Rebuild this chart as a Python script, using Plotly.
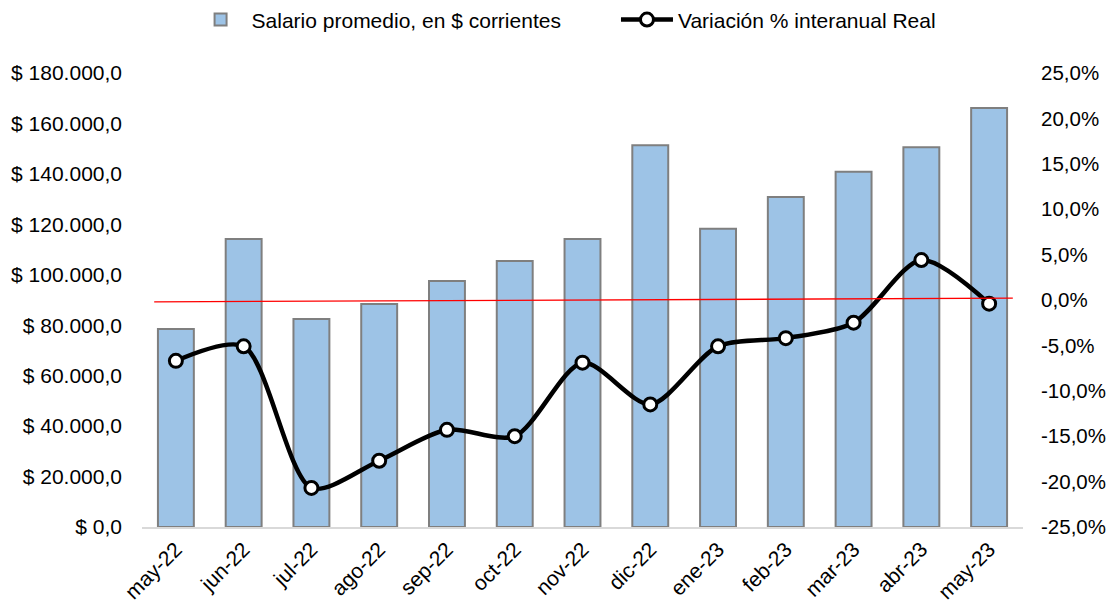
import plotly.graph_objects as go

months = ["may-22", "jun-22", "jul-22", "ago-22", "sep-22", "oct-22", "nov-22",
          "dic-22", "ene-23", "feb-23", "mar-23", "abr-23", "may-23"]
salario = [78500, 114200, 82500, 88400, 97500, 105500, 114200,
           151400, 118200, 130800, 140800, 150600, 166100]
variacion = [-6.7, -5.1, -20.7, -17.7, -14.3, -15.0, -6.9,
             -11.5, -5.1, -4.2, -2.5, 4.4, -0.4]

left_ticks = list(range(0, 180001, 20000))
right_ticks = list(range(-25, 26, 5))
ref_x = [-0.32, 12.35]
ref_y = [-0.2, 0.2]

def fmt_money(v):
    s = f"{v:,.1f}".replace(",", "X").replace(".", ",").replace("X", ".")
    return "$ " + s

def fmt_pct(v):
    return f"{v:.1f}".replace(".", ",") + "%"

FONT = "Liberation Sans, Arial, sans-serif"
FS = 21

fig = go.Figure()
fig.add_trace(go.Bar(
    x=months, y=salario, name="Salario promedio, en $ corrientes",
    marker=dict(color="#9DC3E6", line=dict(color="#7F7F7F", width=2)),
    yaxis="y", legend="legend",
))
fig.add_trace(go.Scatter(
    x=months, y=variacion, name="Variación % interanual Real",
    mode="lines+markers", line=dict(color="black", width=4.5, shape="spline", smoothing=0.8),
    marker=dict(size=13, color="white", line=dict(color="black", width=3)),
    yaxis="y2", legend="legend2",
))
fig.add_shape(type="line", xref="x", yref="y2",
              x0=ref_x[0], x1=ref_x[1], y0=ref_y[0], y1=ref_y[1],
              line=dict(color="#FF0000", width=1.3))

legend_common = dict(orientation="h", y=1.117, yanchor="middle", xanchor="left",
                     font=dict(size=FS, family=FONT), itemwidth=52,
                     bgcolor="rgba(0,0,0,0)")

fig.update_layout(
    width=1108, height=598,
    margin=dict(l=134, r=93, t=65, b=79, autoexpand=False),
    plot_bgcolor="white", paper_bgcolor="white",
    font=dict(family=FONT, size=FS, color="black"),
    bargap=0.47,
    showlegend=True,
    legend=dict(x=0.054, **legend_common),
    legend2=dict(x=0.538, **legend_common),
    xaxis=dict(type="category", tickangle=-45, showgrid=False, showline=True,
               linecolor="#D9D9D9", linewidth=1.5, ticks="", tickfont=dict(size=FS),
               range=[-0.5, 12.5], automargin=False),
    yaxis=dict(range=[0, 180000], tickvals=left_ticks,
               ticktext=[fmt_money(v) for v in left_ticks],
               showgrid=False, zeroline=False, showline=False, ticks="",
               tickfont=dict(size=FS), automargin=False, ticklabelstandoff=19),
    yaxis2=dict(range=[-25, 25], tickvals=right_ticks,
                ticktext=[fmt_pct(v) for v in right_ticks],
                overlaying="y", side="right", showgrid=False, zeroline=False,
                showline=False, ticks="", tickfont=dict(size=20.5), automargin=False,
                ticklabelstandoff=17),
)

fig.write_html("out.html")
